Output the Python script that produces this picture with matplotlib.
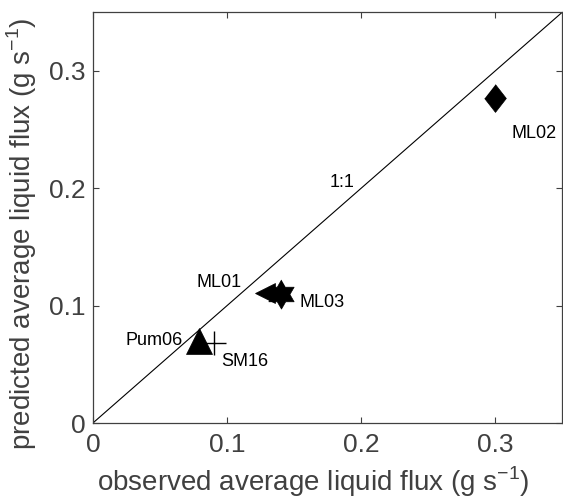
import numpy as np
import matplotlib
matplotlib.use("Agg")
import matplotlib.pyplot as plt

plt.rcParams["font.family"] = ["Liberation Sans", "DejaVu Sans"]

# data
sites = ["ML02", "ML01", "ML03", "Pum06", "SM16"]
observed = [0.300, 0.128, 0.140, 0.079, 0.090]
predicted = [0.277, 0.111, 0.110, 0.070, 0.068]

# label offsets (data units) for each site
label_dx = [0.029, -0.017, 0.014, -0.012, 0.006]
label_dy = [-0.030, 0.009, -0.007, 0.0, -0.016]
label_ha = ["center", "right", "left", "right", "left"]

# MATLAB-style hexagram and diamond
ang = np.linspace(np.pi / 2, np.pi / 2 + 2 * np.pi, 13)[:-1]
rad = np.where(np.arange(12) % 2 == 0, 1.0, 0.577)
hexagram = list(zip(rad * np.cos(ang), rad * np.sin(ang)))
diamond = [(0, 1), (0.78, 0), (0, -1), (-0.78, 0)]

markers = [diamond, "<", hexagram, "^", "+"]
sizes = [20, 15, 21, 19, 17]

GREY = "#404040"

fig = plt.figure(figsize=(5.63, 5.03), dpi=100)
ax = fig.add_axes([0.165, 0.159, 0.834, 0.817])

ax.plot([0, 0.35], [0, 0.35], color="black", lw=0.8)
ax.text(0.186, 0.205, "1:1", fontsize=13, ha="center", va="center")

for i, s in enumerate(sites):
    ax.plot(observed[i], predicted[i], linestyle="none", marker=markers[i],
            markersize=sizes[i], color="black",
            markeredgewidth=1.0 if markers[i] == "+" else 0.5)
    ax.text(observed[i] + label_dx[i], predicted[i] + label_dy[i], s,
            fontsize=13, ha=label_ha[i], va="center")

ax.set_xlim(0, 0.35)
ax.set_ylim(0, 0.35)
ax.set_xticks([0, 0.1, 0.2, 0.3])
ax.set_yticks([0, 0.1, 0.2, 0.3])
ax.set_xticklabels(["0", "0.1", "0.2", "0.3"])
ax.set_yticklabels(["0", "0.1", "0.2", "0.3"])
ax.tick_params(direction="in", length=4, width=0.8, colors=GREY,
               labelsize=19, top=True, right=True)
ax.tick_params(axis="x", pad=7)
ax.tick_params(axis="y", pad=5)
for sp in ax.spines.values():
    sp.set_color(GREY)
    sp.set_linewidth(0.9)

ax.set_xlabel("observed average liquid flux (g s$^{\\mathregular{-1}}$)",
              fontsize=20, color=GREY, va="center")
ax.set_ylabel("predicted average liquid flux (g s$^{\\mathregular{-1}}$)",
              fontsize=20, color=GREY, va="center")
ax.xaxis.set_label_coords(0.470, -0.143)
ax.yaxis.set_label_coords(-0.151, 0.46)

fig.savefig("out.png", dpi=100)
